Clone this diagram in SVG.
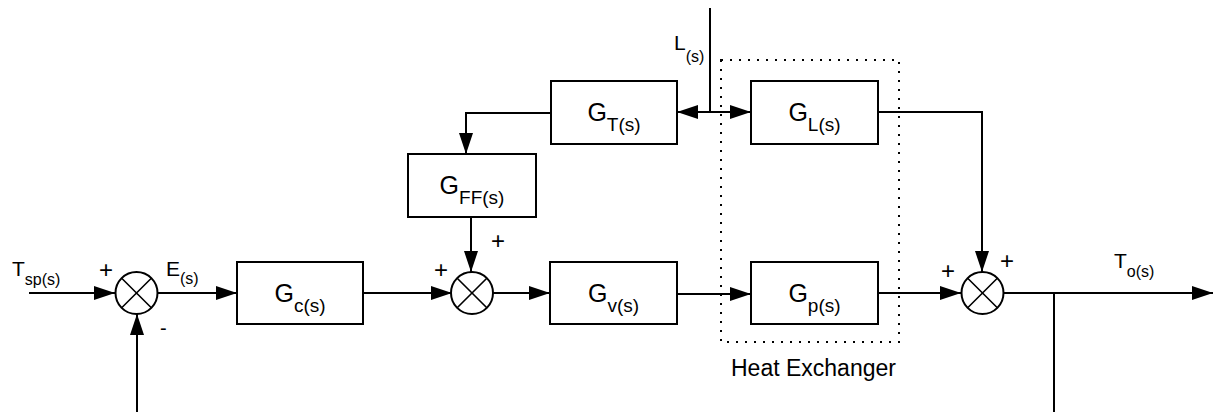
<svg xmlns="http://www.w3.org/2000/svg" width="1216" height="412" viewBox="0 0 1216 412">
<style>
text{font-family:"Liberation Sans",Arial,sans-serif;fill:#000}
.box{fill:#fff;stroke:#000;stroke-width:2}
.sum{fill:#fff;stroke:#000;stroke-width:2}
.x{stroke:#000;stroke-width:1.6}
.ln{fill:none;stroke:#000;stroke-width:2}
.arr{marker-end:url(#ah)}
.g{font-size:25px}
.sub{font-size:19px}
.lbl{font-size:21px}
.lsub{font-size:16px}
.sign{font-size:24px}
</style>
<defs>
<marker id="ah" markerUnits="userSpaceOnUse" markerWidth="22" markerHeight="14" refX="21" refY="7" orient="auto-start-reverse">
<path d="M0,0 L21,7 L0,14 z" fill="#000"/>
</marker>
</defs>
<rect width="1216" height="412" fill="#fff"/>

<g id="heat-exchanger">
<rect x="721" y="60" width="178" height="282" fill="none" stroke="#000" stroke-width="2" stroke-dasharray="2,7"/>
<text x="731" y="376" font-size="23">Heat Exchanger</text>
</g>

<g id="connectors">
<path class="ln arr" d="M29,293 L115,293"/>
<path class="ln arr" d="M137,412 L137,314"/>
<path class="ln arr" d="M157,293 L237,293"/>
<path class="ln arr" d="M363,293 L452,293"/>
<path class="ln arr" d="M493,293 L550,293"/>
<path class="ln arr" d="M677,294 L751,294"/>
<path class="ln arr" d="M878,293 L961,293"/>
<path class="ln arr" d="M1004,293 L1213,293"/>
<path class="ln" d="M1054,293 L1054,412"/>
<path class="ln" d="M710,8 L710,112"/>
<path class="ln" d="M677,112 L751,112" marker-start="url(#ah)" marker-end="url(#ah)"/>
<path class="ln arr" d="M551,113 L466,113 L466,154"/>
<path class="ln arr" d="M471,218 L471,272"/>
<path class="ln arr" d="M878,112 L982,112 L982,272"/>
</g>

<g id="sum1">
<circle class="sum" cx="136.5" cy="293" r="21"/>
<path class="x" d="M121.7,278.2 L151.3,307.8 M151.3,278.2 L121.7,307.8"/>
<text class="sign" x="106" y="277.5" text-anchor="middle">+</text>
<text x="160" y="335" font-size="20">-</text>
</g>

<g id="sum2">
<circle class="sum" cx="472" cy="293" r="21"/>
<path class="x" d="M457.2,278.2 L486.8,307.8 M486.8,278.2 L457.2,307.8"/>
<text class="sign" x="441" y="277.5" text-anchor="middle">+</text>
<text class="sign" x="498" y="248.5" text-anchor="middle">+</text>
</g>

<g id="sum3">
<circle class="sum" cx="982.5" cy="293" r="21"/>
<path class="x" d="M967.7,278.2 L997.3,307.8 M997.3,278.2 L967.7,307.8"/>
<text class="sign" x="948" y="278.5" text-anchor="middle">+</text>
<text class="sign" x="1007" y="268.5" text-anchor="middle">+</text>
</g>

<g id="Gc">
<rect class="box" x="237" y="262" width="126" height="62"/>
<text class="g" x="300" y="302" text-anchor="middle">G<tspan class="sub" dy="10">c(s)</tspan></text>
</g>

<g id="Gv">
<rect class="box" x="550" y="262" width="127" height="62"/>
<text class="g" x="613.5" y="302" text-anchor="middle">G<tspan class="sub" dy="10">v(s)</tspan></text>
</g>

<g id="Gp">
<rect class="box" x="751" y="262" width="127" height="62"/>
<text class="g" x="814.5" y="302" text-anchor="middle">G<tspan class="sub" dy="10">p(s)</tspan></text>
</g>

<g id="GT">
<rect class="box" x="551" y="81" width="126" height="63"/>
<text class="g" x="614" y="121" text-anchor="middle">G<tspan class="sub" dy="10">T(s)</tspan></text>
</g>

<g id="GL">
<rect class="box" x="751" y="81" width="127" height="63"/>
<text class="g" x="814.5" y="121" text-anchor="middle">G<tspan class="sub" dy="10">L(s)</tspan></text>
</g>

<g id="GFF">
<rect class="box" x="408" y="154" width="128" height="63"/>
<text class="g" x="472" y="194" text-anchor="middle">G<tspan class="sub" dy="10">FF(s)</tspan></text>
</g>

<g id="labels">
<text class="lbl" x="12" y="276">T<tspan class="lsub" dy="9">sp(s)</tspan></text>
<text class="lbl" x="166" y="276">E<tspan class="lsub" dy="8">(s)</tspan></text>
<text class="lbl" x="674" y="50">L<tspan class="lsub" dy="12">(s)</tspan></text>
<text class="lbl" x="1114" y="268">T<tspan class="lsub" dy="9">o(s)</tspan></text>
</g>
</svg>
